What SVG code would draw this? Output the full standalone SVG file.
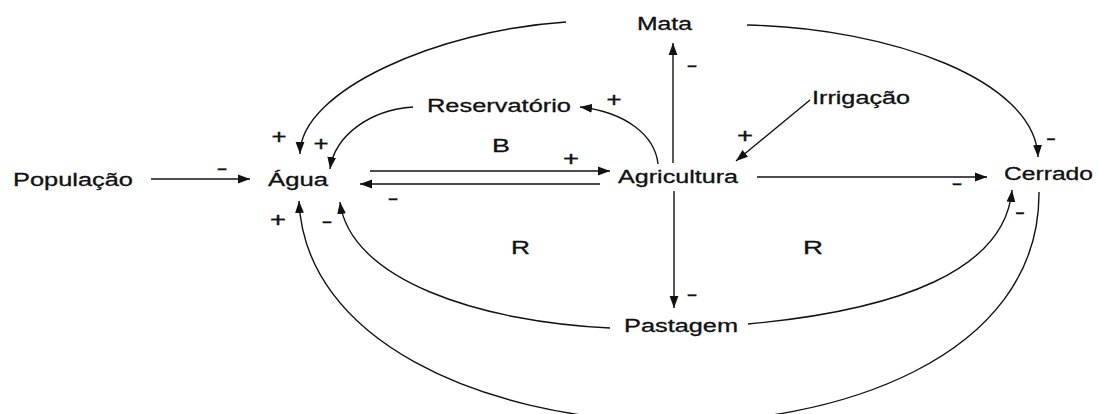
<svg xmlns="http://www.w3.org/2000/svg" width="1098" height="414" viewBox="0 0 1098 414">
<style>
.t{font-family:"Liberation Sans",Arial,sans-serif;font-size:18px;fill:#111;stroke:#111;stroke-width:0.3}
.s{font-family:"Liberation Sans",Arial,sans-serif;font-size:20px;fill:#111;stroke:#111;stroke-width:0.4;text-anchor:middle}
.c{fill:none;stroke:#111;stroke-width:1.4;marker-end:url(#ah)}
</style>
<defs>
<marker id="ah" markerUnits="userSpaceOnUse" markerWidth="13" markerHeight="10" refX="12" refY="5" orient="auto">
<path d="M0,0.6 L12,5 L0,9.4 Z" fill="#111"/>
</marker>
</defs>
<rect width="1098" height="414" fill="#fff"/>
<g id="connectors">
<line class="c" x1="151" y1="179" x2="250" y2="179"/>
<line class="c" x1="370" y1="171" x2="610" y2="171"/>
<line class="c" x1="600" y1="184" x2="360" y2="184"/>
<line class="c" x1="673" y1="163" x2="673" y2="43"/>
<line class="c" x1="674" y1="191" x2="674" y2="308"/>
<line class="c" x1="757" y1="177" x2="987" y2="177"/>
<line class="c" x1="810" y1="100" x2="736" y2="161"/>
<path class="c" d="M658,164 C655,135 625,112 580,107"/>
<path class="c" d="M413,107 C370,110 335,135 330,169"/>
<path class="c" d="M566,22 C440,30 300,90 300,154"/>
<path class="c" d="M747,25 C890,28 1035,80 1038,157"/>
<path class="c" d="M610,328 C480,322 350,280 340,202"/>
<path class="c" d="M748,324 C900,310 1005,270 1012,190"/>
<path class="c" d="M1039,192 C1040,360 830,426 665,422 C480,418 305,340 299,201"/>
</g>
<g id="polarities">
<text class="s" x="222" y="175" textLength="11" lengthAdjust="spacingAndGlyphs">-</text>
<text class="s" x="279" y="144" textLength="15" lengthAdjust="spacingAndGlyphs">+</text>
<text class="s" x="321" y="151" textLength="15" lengthAdjust="spacingAndGlyphs">+</text>
<text class="s" x="614" y="107" textLength="15" lengthAdjust="spacingAndGlyphs">+</text>
<text class="s" x="571" y="166" textLength="16" lengthAdjust="spacingAndGlyphs">+</text>
<text class="s" x="393" y="205" textLength="11" lengthAdjust="spacingAndGlyphs">-</text>
<text class="s" x="278" y="227" textLength="16" lengthAdjust="spacingAndGlyphs">+</text>
<text class="s" x="327" y="228" textLength="11" lengthAdjust="spacingAndGlyphs">-</text>
<text class="s" x="692" y="72" textLength="11" lengthAdjust="spacingAndGlyphs">-</text>
<text class="s" x="745" y="143" textLength="16" lengthAdjust="spacingAndGlyphs">+</text>
<text class="s" x="957" y="190" textLength="11" lengthAdjust="spacingAndGlyphs">-</text>
<text class="s" x="1051" y="145" textLength="10" lengthAdjust="spacingAndGlyphs">-</text>
<text class="s" x="1020" y="219" textLength="10" lengthAdjust="spacingAndGlyphs">-</text>
<text class="s" x="692" y="301" textLength="11" lengthAdjust="spacingAndGlyphs">-</text>
</g>
<g id="node-populacao"><text class="t" x="13" y="186" textLength="120" lengthAdjust="spacingAndGlyphs">População</text></g>
<g id="node-agua"><text class="t" x="268" y="186" textLength="60" lengthAdjust="spacingAndGlyphs">Água</text></g>
<g id="node-agricultura"><text class="t" x="618" y="183" textLength="120" lengthAdjust="spacingAndGlyphs">Agricultura</text></g>
<g id="node-mata"><text class="t" x="637" y="30" textLength="55" lengthAdjust="spacingAndGlyphs">Mata</text></g>
<g id="node-reservatorio"><text class="t" x="427" y="112" textLength="144" lengthAdjust="spacingAndGlyphs">Reservatório</text></g>
<g id="node-irrigacao"><text class="t" x="812" y="104" textLength="98" lengthAdjust="spacingAndGlyphs">Irrigação</text></g>
<g id="node-cerrado"><text class="t" x="1004" y="180" textLength="89" lengthAdjust="spacingAndGlyphs">Cerrado</text></g>
<g id="node-pastagem"><text class="t" x="624" y="332" textLength="114" lengthAdjust="spacingAndGlyphs">Pastagem</text></g>
<g id="loop-labels">
<text class="t" x="492" y="152" textLength="18" lengthAdjust="spacingAndGlyphs">B</text>
<text class="t" x="511" y="254" textLength="19" lengthAdjust="spacingAndGlyphs">R</text>
<text class="t" x="803" y="254" textLength="20" lengthAdjust="spacingAndGlyphs">R</text>
</g>
</svg>
